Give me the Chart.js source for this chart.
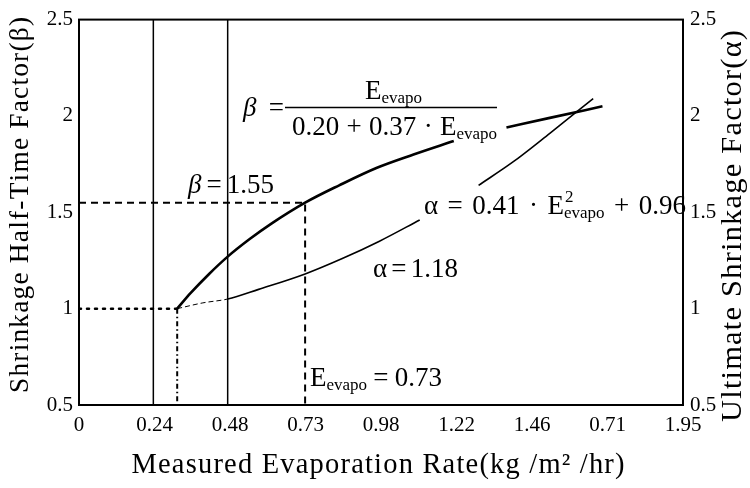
<!DOCTYPE html>
<html>
<head>
<meta charset="utf-8">
<script src="https://cdn.jsdelivr.net/npm/chart.js@4/dist/chart.umd.min.js"></script>
<style>
html,body{margin:0;padding:0;background:#fff;}
canvas{display:block;}
</style>
</head>
<body>
<canvas id="c" width="750" height="488"></canvas>
<script>
// ---- data ----
const xTickLabels = ['0','0.24','0.48','0.73','0.98','1.22','1.46','0.71','1.95'];
const xMax = 1.95;
const yTickLabels = ['0.5','1','1.5','2','2.5'];
const yMin = 0.5, yMax = 2.5, yStep = 0.5;

// beta curve (left axis), null = gap under the formula label
const betaE    = [0.317, 0.36, 0.42, 0.48, 0.55, 0.62, 0.73, 0.84, 0.96, 1.08, 1.21, 1.29, 1.38, 1.52, 1.69];
const betaVals = [1.00, 1.08, 1.18, 1.27, 1.36, 1.44, 1.55, 1.64, 1.73, 1.80, 1.87, null, 1.94, 1.99, 2.05];

// alpha curve (right axis)
const alphaE    = [0.317, 0.40, 0.48, 0.58, 0.73, 0.85, 0.97, 1.10, 1.20, 1.29, 1.40, 1.52, 1.66];
const alphaVals = [1.00, 1.03, 1.05, 1.10, 1.18, 1.26, 1.35, 1.46, null, 1.64, 1.76, 1.91, 2.09];

// solid vertical reference lines
const refLinesE = [0.24, 0.48];
// marked operating points
const markE    = [0.317, 0.73];
const markBeta = [1.00, 1.55];

const SERIF = "'Liberation Serif','DejaVu Serif',serif";

function pts(xs, ys){ return xs.map((x,i)=>({x:x, y:ys[i]})); }

const datasets = [];
datasets.push({
  data: pts(betaE, betaVals), yAxisID:'y', borderColor:'#000', borderWidth:2.6,
  cubicInterpolationMode:'monotone', spanGaps:false, pointRadius:0
});
datasets.push({
  data: pts(alphaE, alphaVals), yAxisID:'y2', borderColor:'#000', borderWidth:1.6,
  cubicInterpolationMode:'monotone', spanGaps:false, pointRadius:0,
  segment:{
    borderDash: c => c.p0.parsed.x < 0.47 ? [5,3] : undefined,
    borderWidth: c => c.p0.parsed.x < 0.47 ? 1 : 1.6
  }
});
refLinesE.forEach(e => datasets.push({
  data:[{x:e,y:yMin},{x:e,y:yMax}], yAxisID:'y', borderColor:'#000', borderWidth:1.5, pointRadius:0
}));
// dashed lines for beta = 1.55 at E = 0.73
datasets.push({
  data:[{x:0,y:markBeta[1]},{x:markE[1],y:markBeta[1]},{x:markE[1],y:yMin}], yAxisID:'y',
  borderColor:'#000', borderWidth:2, borderDash:[7,5], pointRadius:0
});
// dotted line for beta = 1
datasets.push({
  data:[{x:0,y:markBeta[0]},{x:markE[0],y:markBeta[0]}], yAxisID:'y',
  borderColor:'#000', borderWidth:2.5, borderDash:[2,6], borderCapStyle:'round', pointRadius:0
});
// dash-dot vertical at E start
datasets.push({
  data:[{x:markE[0],y:markBeta[0]},{x:markE[0],y:yMin}], yAxisID:'y',
  borderColor:'#000', borderWidth:2, borderDash:[5,3,1.5,3], pointRadius:0
});

function font(size, italic){ return (italic?'italic ':'') + size + 'px ' + SERIF; }

const MAIN = 27, SUB = 17;
// rich text: parts laid out between x0 and x1; sub/stack parts get no gap before them
function drawRich(ctx, parts, x0, x1, base){
  const widths = parts.map(p => {
    if (p.stack){
      ctx.font = font(SUB);
      return Math.max(ctx.measureText(p.stack[0]).width, ctx.measureText(p.stack[1]).width);
    }
    ctx.font = font(p.sub ? SUB : MAIN, p.italic);
    return ctx.measureText(p.t).width;
  });
  const total = widths.reduce((a,b)=>a+b,0);
  const flex = (p,i) => i>0 && !p.stack && !p.sub;
  const nGaps = parts.filter(flex).length;
  let gap = 0, x = x0;
  if (nGaps > 0) gap = Math.max(0, (x1 - x0 - total) / nGaps);
  else x = (x0 + x1)/2 - total/2;
  ctx.textBaseline = 'alphabetic';
  ctx.textAlign = 'left';
  parts.forEach((p,i) => {
    if (flex(p,i)) x += gap;
    if (p.stack){
      ctx.font = font(SUB);
      ctx.fillText(p.stack[0], x+1, base - 12);
      ctx.fillText(p.stack[1], x, base + 4);
    } else {
      ctx.font = font(p.sub ? SUB : MAIN, p.italic);
      ctx.fillText(p.t, x, base + (p.sub ? 4 : 0));
    }
    x += widths[i];
  });
}

// text fitted to a given length with a small fixed letter spacing
function fittedText(ctx, text, cx, cy, length, rot){
  const SP = 1.2;
  const chars = Array.from(text);
  ctx.save();
  ctx.font = font(100);
  const nat100 = chars.reduce((a,ch)=>a+ctx.measureText(ch).width,0);
  const size = (length - SP*(chars.length-1)) / (nat100/100);
  ctx.font = font(size.toFixed(2));
  ctx.translate(cx, cy);
  if (rot) ctx.rotate(rot);
  ctx.textAlign = 'left';
  ctx.textBaseline = 'middle';
  const ws = chars.map(ch => ctx.measureText(ch).width);
  const nat = ws.reduce((a,b)=>a+b,0);
  const sp = (length - nat) / (chars.length - 1);
  let x = -length/2;
  chars.forEach((ch,i) => { ctx.fillText(ch, x, 0); x += ws[i] + sp; });
  ctx.restore();
}

const overlay = {
  id:'overlay',
  afterDatasetsDraw(chart){
    const ctx = chart.ctx;
    const a = chart.chartArea;
    ctx.save();
    ctx.strokeStyle = '#000';
    ctx.lineWidth = 2;
    ctx.strokeRect(a.left, a.top, a.right - a.left, a.bottom - a.top);
    ctx.fillStyle = '#000';

    // beta = 1.55
    drawRich(ctx, [{t:'β',italic:true},{t:'='},{t:'1.55'}], 188, 274, 193);
    // beta formula
    drawRich(ctx, [{t:'β',italic:true},{t:'='}], 243, 284, 116);
    drawRich(ctx, [{t:'E'},{t:'evapo',sub:true}], 362, 425, 99);
    ctx.lineWidth = 1.5;
    ctx.beginPath(); ctx.moveTo(285, 107.5); ctx.lineTo(497, 107.5); ctx.stroke();
    drawRich(ctx, [{t:'0.20'},{t:'+'},{t:'0.37'},{t:'·'},{t:'E'},{t:'evapo',sub:true}], 292, 497, 135);
    // alpha formula
    drawRich(ctx, [{t:'α'},{t:'='},{t:'0.41'},{t:'·'},{t:'E'},{stack:['2','evapo']},{t:'+'},{t:'0.96'}], 424, 686, 214);
    // alpha = 1.18
    drawRich(ctx, [{t:'α'},{t:'='},{t:'1.18'}], 373, 458, 277);
    // E = 0.73
    drawRich(ctx, [{t:'E'},{t:'evapo',sub:true},{t:'='},{t:'0.73'}], 310, 442, 386);

    // axis titles
    fittedText(ctx, 'Shrinkage Half-Time Factor(β)', 21, 205, 376, -Math.PI/2);
    fittedText(ctx, 'Ultimate Shrinkage Factor(α)', 733, 226, 392, -Math.PI/2);
    fittedText(ctx, 'Measured Evaporation Rate(kg /m² /hr)', 378, 466, 493, 0);
    ctx.restore();
  }
};

const tickFont = {family: SERIF, size: 21};
const yTickCb = (v) => { const i = Math.round((v - yMin)/yStep); return yTickLabels[i]; };

new Chart(document.getElementById('c'), {
  type:'scatter',
  data:{ datasets: datasets.map(d => Object.assign({showLine:true, fill:false}, d)) },
  options:{
    responsive:false, animation:false,
    layout:{ padding:{top:17, left:0, right:0, bottom:0} },
    plugins:{ legend:{display:false}, tooltip:{enabled:false} },
    scales:{
      x:{
        type:'linear', min:0, max:xMax,
        grid:{display:false, drawTicks:false}, border:{display:false},
        afterBuildTicks: s => { s.ticks = xTickLabels.map((_,i)=>({value: i*xMax/(xTickLabels.length-1)})); },
        afterFit: s => { s.height = 83; },
        ticks:{ autoSkip:false, maxRotation:0, padding:8, color:'#000', font:tickFont,
          callback:(v,i)=> xTickLabels[i] }
      },
      y:{
        type:'linear', position:'left', min:yMin, max:yMax,
        grid:{display:false, drawTicks:false}, border:{display:false},
        afterFit: s => { s.width = 79; },
        ticks:{ stepSize:yStep, padding:6, color:'#000', font:tickFont, callback:yTickCb }
      },
      y2:{
        type:'linear', position:'right', min:yMin, max:yMax,
        grid:{display:false, drawTicks:false}, border:{display:false},
        afterFit: s => { s.width = 67; },
        ticks:{ stepSize:yStep, padding:7, color:'#000', font:tickFont, callback:yTickCb }
      }
    }
  },
  plugins:[overlay]
});
</script>
</body>
</html>
